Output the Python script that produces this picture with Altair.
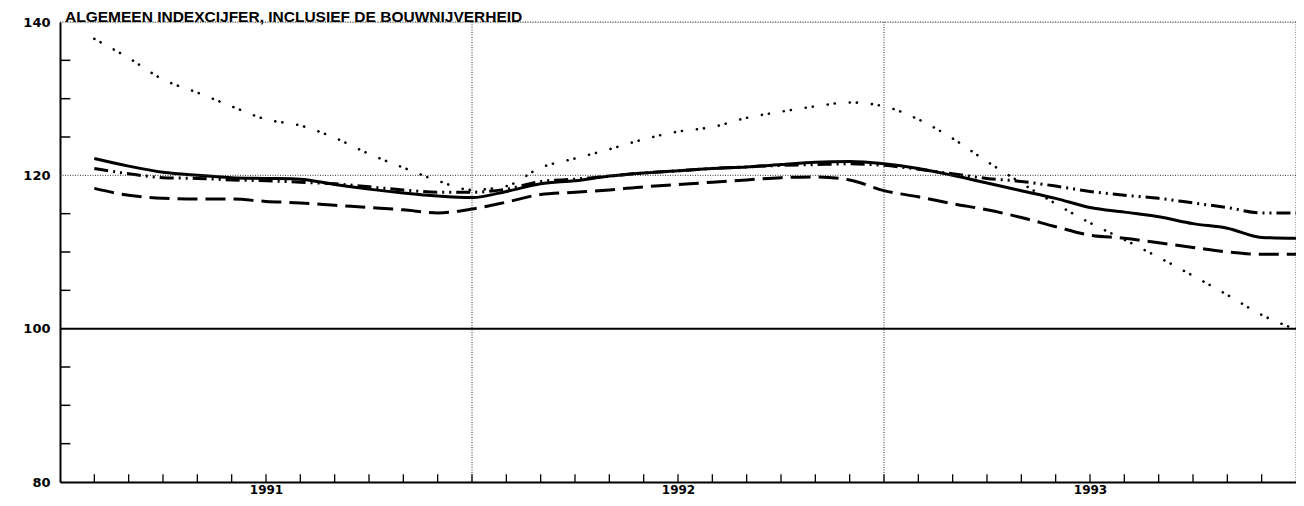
import altair as alt
import pandas as pd

# ---- data (month index: 1 = end of Jan 1991 ... 36 = end of Dec 1993)
title_text = ["ALGEMEEN INDEXCIJFER, INCLUSIEF DE BOUWNIJVERHEID"]
months = list(range(1, 37))
year_labels = ["1991", "1992", "1993"]
year_centers = [6, 18, 30]
vertical_grid = [12, 24, 36]
dotted_hlines = [120, 140]
base_line = [100]
y_label_values = [80, 100, 120, 140]
y_minor_ticks = [85, 90, 95, 105, 110, 115, 125, 130, 135]
x_minor_ticks = list(range(1, 36))

solid = [122.2, 121.2, 120.4, 120.0, 119.7, 119.6, 119.5, 118.8, 118.2, 117.7, 117.3, 117.1,
         117.9, 118.9, 119.3, 119.9, 120.3, 120.6, 120.9, 121.1, 121.4, 121.7, 121.8, 121.5,
         120.9, 120.0, 119.0, 118.0, 117.0, 115.8, 115.2, 114.6, 113.7, 113.1, 111.9, 111.8]
dashed = [118.3, 117.4, 117.0, 116.9, 116.9, 116.6, 116.4, 116.1, 115.8, 115.5, 115.1, 115.6,
          116.5, 117.5, 117.8, 118.1, 118.5, 118.8, 119.1, 119.4, 119.7, 119.8, 119.4, 118.0,
          117.2, 116.3, 115.5, 114.5, 113.3, 112.2, 111.8, 111.2, 110.6, 110.0, 109.7, 109.7]
dashdot = [120.9, 120.2, 119.7, 119.6, 119.4, 119.3, 119.1, 118.9, 118.5, 118.1, 117.8, 117.8,
           118.2, 119.2, 119.5, 119.9, 120.3, 120.6, 120.9, 121.1, 121.3, 121.4, 121.5, 121.3,
           120.8, 120.2, 119.6, 119.2, 118.6, 117.9, 117.4, 117.0, 116.4, 115.8, 115.1, 115.1]
dotted = [137.8, 135.3, 132.5, 130.8, 129.0, 127.3, 126.5, 124.9, 122.8, 121.0, 119.3, 118.1,
          118.6, 121.0, 122.2, 123.4, 124.7, 125.7, 126.3, 127.5, 128.3, 129.0, 129.5, 129.0,
          127.3, 124.8, 121.8, 119.0, 116.3, 113.8, 111.6, 109.3, 106.9, 104.4, 101.8, 99.9]

series = {"solid": solid, "dashed": dashed, "dashdot": dashdot, "dotted": dotted}
styles = {
    "solid": dict(strokeWidth=3),
    "dashed": dict(strokeWidth=3, strokeDash=[20, 8]),
    "dashdot": dict(strokeWidth=3, strokeDash=[14, 5, 2, 5, 2, 5]),
    "dotted": dict(strokeWidth=2.6, strokeDash=[0.1, 7, 0.1, 15], strokeCap="round"),
}

# tick lengths (style), in data units
X_TICK_LEN = 1.0
Y_TICK_LEN = 0.3

xscale = alt.Scale(domain=[0, 36], nice=False, zero=False)
yscale = alt.Scale(domain=[80, 140], nice=False, zero=False)

label_expr = " : ".join(
    f"datum.value == {c} ? '{l}'" for c, l in zip(year_centers[:-1], year_labels[:-1])
) + f" : '{year_labels[-1]}'"

x_axis = alt.Axis(values=year_centers, labelExpr=label_expr, ticks=False, grid=False,
                  domain=True, domainColor="black", domainWidth=2, title=None,
                  labelFont="DejaVu Sans", labelFontSize=12, labelFontWeight="bold",
                  labelColor="black", labelPadding=2)
y_axis = alt.Axis(values=y_label_values, ticks=False, grid=False, domain=True,
                  domainColor="black", domainWidth=2, title=None,
                  labelFont="DejaVu Sans", labelFontSize=13, labelFontWeight="bold",
                  labelColor="black", labelPadding=10)


def X(field):
    return alt.X(field, scale=xscale, axis=x_axis)


def Y(field):
    return alt.Y(field, scale=yscale, axis=y_axis)


layers = []

# main lines
for name, vals in series.items():
    df = pd.DataFrame({"month": months, "value": vals})
    ln = alt.Chart(df).mark_line(color="black", interpolate="monotone", **styles[name]).encode(
        x=X("month:Q"), y=Y("value:Q"),
    )
    layers.append(ln)

# dotted vertical gridlines / right frame
vg = alt.Chart(pd.DataFrame({"month": vertical_grid})).mark_rule(
    color="#333", strokeWidth=1, strokeDash=[1, 1.5]
).encode(x=X("month:Q"))
layers.append(vg)

# dotted horizontal gridline(s) / top frame
hg = alt.Chart(pd.DataFrame({"value": dotted_hlines})).mark_rule(
    color="#333", strokeWidth=1, strokeDash=[1, 1.5]
).encode(y=Y("value:Q"))
layers.append(hg)

# solid 100 line
bl = alt.Chart(pd.DataFrame({"value": base_line})).mark_rule(
    color="black", strokeWidth=2
).encode(y=Y("value:Q"))
layers.append(bl)

# inward month ticks on the bottom axis
ymin = y_label_values[0]
ymax = y_label_values[-1]
xt_df = pd.DataFrame({"month": x_minor_ticks,
                      "value": [ymin] * len(x_minor_ticks),
                      "value2": [ymin + X_TICK_LEN] * len(x_minor_ticks)})
xt = alt.Chart(xt_df).mark_rule(color="black", strokeWidth=1.3).encode(
    x=X("month:Q"), y=Y("value:Q"), y2="value2:Q",
)
layers.append(xt)

# inward value ticks on the left axis
yt_df = pd.DataFrame({"value": y_minor_ticks,
                      "month": [0] * len(y_minor_ticks),
                      "month2": [Y_TICK_LEN] * len(y_minor_ticks)})
yt = alt.Chart(yt_df).mark_rule(color="black", strokeWidth=1.5).encode(
    y=Y("value:Q"), x=X("month:Q"), x2="month2:Q",
)
layers.append(yt)

# chart heading, sitting on the top frame at the left edge
tt_df = pd.DataFrame({"label": title_text, "month": [0], "value": [ymax]})
tt = alt.Chart(tt_df).mark_text(
    align="left", baseline="alphabetic", dx=5, dy=-0.5, font="Liberation Sans",
    fontSize=15.5, fontWeight="bold", color="black",
).encode(x=X("month:Q"), y=Y("value:Q"), text="label:N")
layers.append(tt)

chart = alt.layer(*layers).properties(
    width=1236,
    height=460,
    padding={"left": 52, "top": 14, "right": 0, "bottom": 14},
    autosize=alt.AutoSizeParams(type="none"),
).configure_view(stroke=None).configure(background="white")

chart.save("out.html", embed_options={"renderer": "svg", "actions": False})
